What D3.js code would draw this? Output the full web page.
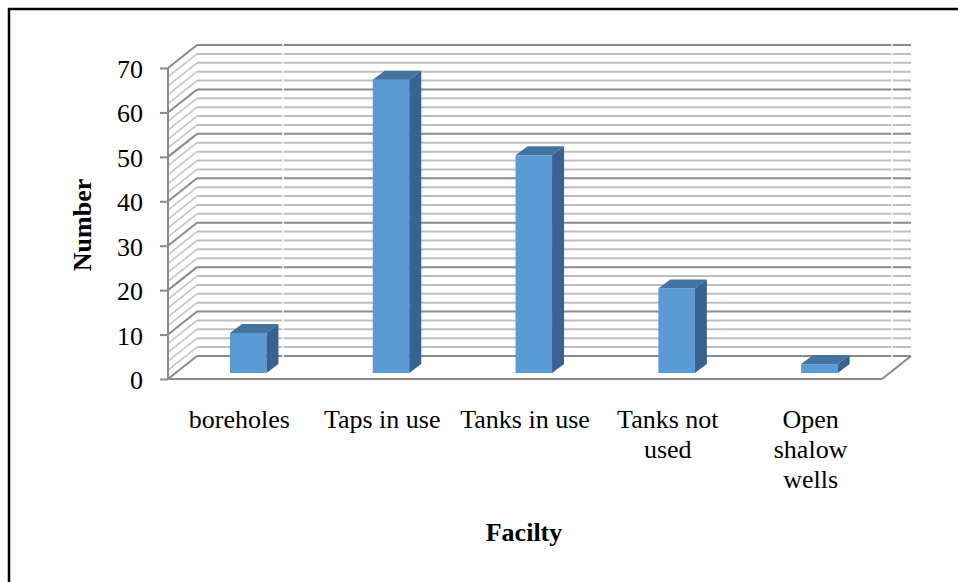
<!DOCTYPE html>
<html>
<head>
<meta charset="utf-8">
<script src="https://cdn.jsdelivr.net/npm/d3@7"></script>
<style>
  html, body { margin: 0; padding: 0; background: #fff; }
  svg { display: block; }
  text { font-family: "Liberation Serif", "Times New Roman", serif; fill: #000; }
</style>
</head>
<body>
<svg id="chart" width="958" height="582"></svg>
<script>
// ---- data ----
const categories = ["boreholes", "Taps in use", "Tanks in use", "Tanks not used", "Open shalow wells"];
const categoryLines = [["boreholes"], ["Taps in use"], ["Tanks in use"], ["Tanks not", "used"], ["Open", "shalow", "wells"]];
const values = [9, 66, 49, 19, 2];
const yTicks = [0, 10, 20, 30, 40, 50, 60, 70];
const minorTicks = d3.range(0, 71, 2);
const yTitle = "Number";
const xTitle = "Facilty";

// ---- layout ----
const svg = d3.select("#chart");
const W = 958, H = 582;
const DX = 29, DY = 23;           // depth of the 3D box (back wall offset)
const BFX = 8.8, BFY = 6;         // bar front offset into the depth
const BDX = 12, BDY = 9;          // bar depth
const barW = 36.5;

const y = d3.scaleLinear().domain([0, 70]).range([379, 68]);
const x = d3.scaleBand().domain(categories).range([168, 882]).padding(0);

// border (right/bottom edges lie outside the picture)
svg.append("rect").attr("x", 9).attr("y", 9).attr("width", W + 20).attr("height", H + 20)
  .attr("fill", "none").attr("stroke", "#000").attr("stroke-width", 2.5);

const x0 = x.range()[0], x1 = x.range()[1];
const gGrid = svg.append("g");

// back-wall gridlines (minor first, then major)
minorTicks.filter(v => v % 10 !== 0).forEach(v => {
  gGrid.append("line").attr("x1", x0 + DX).attr("x2", x1 + DX)
    .attr("y1", y(v) - DY).attr("y2", y(v) - DY)
    .attr("stroke", "#bfbfbf").attr("stroke-width", 2);
  gGrid.append("line").attr("x1", x0).attr("y1", y(v)).attr("x2", x0 + DX).attr("y2", y(v) - DY)
    .attr("stroke", "#c4c4c4").attr("stroke-width", 1.6);
});
yTicks.forEach(v => {
  gGrid.append("line").attr("x1", x0 + DX).attr("x2", x1 + DX)
    .attr("y1", y(v) - DY).attr("y2", y(v) - DY)
    .attr("stroke", "#8a8a8a").attr("stroke-width", 2);
  gGrid.append("line").attr("x1", x0).attr("y1", y(v)).attr("x2", x0 + DX).attr("y2", y(v) - DY)
    .attr("stroke", "#8a8a8a").attr("stroke-width", 2);
});
// white vertical breaks seen on the back wall
[283, 892].forEach(xv => {
  gGrid.append("line").attr("x1", xv).attr("x2", xv).attr("y1", y(70) - DY - 2).attr("y2", y(0) - DY + 1)
    .attr("stroke", "#fff").attr("stroke-width", 1.5);
});

// floor edges
gGrid.append("line").attr("x1", x0).attr("x2", x1).attr("y1", y(0)).attr("y2", y(0))
  .attr("stroke", "#8a8a8a").attr("stroke-width", 2);
gGrid.append("line").attr("x1", x1).attr("y1", y(0)).attr("x2", x1 + DX).attr("y2", y(0) - DY)
  .attr("stroke", "#8a8a8a").attr("stroke-width", 2);

// y axis
const yAxis = d3.axisLeft(y).tickValues(yTicks).tickSize(8).tickPadding(0).tickFormat(d3.format("d"));
const gAxis = svg.append("g").attr("transform", `translate(${x0},0)`).call(yAxis);
gAxis.select(".domain").attr("stroke", "#8a8a8a").attr("stroke-width", 2)
  .attr("d", `M0,${y(70)}V${y(0)}`);
gAxis.selectAll(".tick line").attr("stroke", "#8a8a8a").attr("stroke-width", 2);
gAxis.selectAll(".tick text").attr("x", -25).attr("dy", "9.5")
  .style("font-family", '"Liberation Serif", serif').style("font-size", "26px").attr("fill", "#000");

// bars
const gBars = svg.append("g");
categories.forEach((c, i) => {
  const cx = x(c) + x.bandwidth() / 2 + BFX;
  const left = cx - barW / 2, right = cx + barW / 2;
  const base = y(0) - BFY;
  const top = y(values[i]) - BFY;
  // front face
  gBars.append("rect").attr("x", left).attr("y", top).attr("width", barW).attr("height", base - top)
    .attr("fill", "#5b9bd5");
  // side face
  gBars.append("path")
    .attr("d", `M${right},${top}L${right + BDX},${top - BDY}L${right + BDX},${base - BDY}L${right},${base}Z`)
    .attr("fill", "#376291");
  // top face
  gBars.append("path")
    .attr("d", `M${left},${top}L${left + BDX},${top - BDY}L${right + BDX},${top - BDY}L${right},${top}Z`)
    .attr("fill", "#43739f");
});

// category labels
const gLab = svg.append("g");
categoryLines.forEach((lines, i) => {
  const cx = x(categories[i]) + x.bandwidth() / 2;
  const t = gLab.append("text").attr("text-anchor", "middle").style("font-size", "26px");
  lines.forEach((ln, j) => {
    t.append("tspan").attr("x", cx).attr("y", 428 + j * 30).text(ln);
  });
});

// axis titles
svg.append("text").attr("transform", "translate(91,225) rotate(-90)")
  .attr("text-anchor", "middle").style("font-size", "26px").style("font-weight", "bold").text(yTitle);
svg.append("text").attr("x", 524).attr("y", 541)
  .attr("text-anchor", "middle").style("font-size", "26px").style("font-weight", "bold").text(xTitle);
</script>
</body>
</html>
